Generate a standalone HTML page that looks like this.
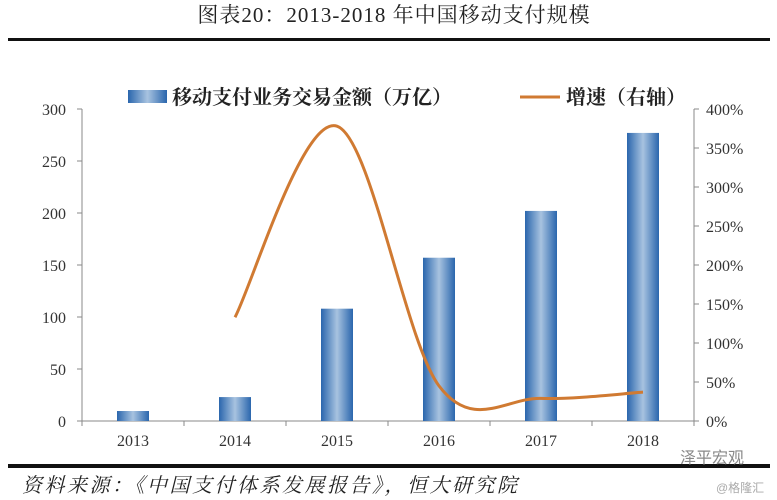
<!DOCTYPE html>
<html><head><meta charset="utf-8"><style>
body{margin:0;background:#fff;width:777px;height:500px;overflow:hidden}
svg{display:block}
</style></head><body>
<svg id="chart" width="777" height="500">
<defs>
<linearGradient id="bg" x1="0" x2="1" y1="0" y2="0">
<stop offset="0" stop-color="#2a66ad"/><stop offset="0.5" stop-color="#a8c3e0"/><stop offset="1" stop-color="#2a66ad"/>
</linearGradient>
</defs>
<text x="394" y="22" text-anchor="middle" font-family="Liberation Serif,'Noto Serif CJK SC',serif" font-size="21" letter-spacing="1" fill="#222">图表20：2013-2018 年中国移动支付规模</text>
<rect x="8" y="38" width="762" height="3" fill="#111"/>
<g>
<rect x="128" y="90" width="39" height="13" fill="url(#bg)"/>
<text x="172" y="104" font-family="Liberation Serif,'Noto Serif CJK SC',serif" font-size="20" font-weight="bold" fill="#222">移动支付业务交易金额（万亿）</text>
<line x1="520" y1="97" x2="560" y2="97" stroke="#d07a32" stroke-width="3"/>
<text x="566" y="104" font-family="Liberation Serif,'Noto Serif CJK SC',serif" font-size="20" font-weight="bold" fill="#222">增速（右轴）</text>
</g>
<g id="plot"></g>
<rect x="8" y="464" width="762" height="4" fill="#111"/>
<text x="22" y="492" font-family="Liberation Serif,'Noto Serif CJK SC',serif" font-size="20" font-style="italic" letter-spacing="2.5" fill="#222">资料来源：《中国支付体系发展报告》，恒大研究院</text>
<text x="680" y="463" font-family="Liberation Sans,'Noto Sans CJK SC',sans-serif" font-size="16" fill="#888">泽平宏观</text>
<text x="716" y="492" font-family="Liberation Sans,'Noto Sans CJK SC',sans-serif" font-size="12" fill="#aaa">@格隆汇</text>
</svg>
<script>
const categories=["2013","2014","2015","2016","2017","2018"];
const amounts=[9.6,23,108,157,202,277];
const growth=[null,133,378,45,29,37];
const leftTicks=[0,50,100,150,200,250,300];
const rightTicks=[0,50,100,150,200,250,300,350,400];
const X0=82,X1=694,Y0=421,Y1=109;
const NS="http://www.w3.org/2000/svg";
const g=document.getElementById('plot');
const bw=(X1-X0)/categories.length;
const xc=i=>X0+bw*(i+0.5);
const yl=v=>Y0-(v/300)*(Y0-Y1);
const yr=v=>Y0-(v/400)*(Y0-Y1);
function mk(t,a){const e=document.createElementNS(NS,t);for(const k in a)e.setAttribute(k,a[k]);g.appendChild(e);return e;}
const font="Liberation Serif,'Noto Serif CJK SC',serif";
let ax=mk('line',{x1:X0,y1:Y1,x2:X0,y2:Y0,stroke:'#888'});


ax=mk('line',{x1:X1,y1:Y1,x2:X1,y2:Y0,stroke:'#888'});


ax=mk('line',{x1:X0,y1:Y0,x2:X1,y2:Y0,stroke:'#888'});


leftTicks.forEach(v=>{
mk('line',{x1:X0-5,x2:X0,y1:yl(v),y2:yl(v),stroke:'#888'});
const t=mk('text',{x:X0-16,y:yl(v)+6,'text-anchor':'end','font-family':font,'font-size':16,fill:'#333'});
t.textContent=v;


});
rightTicks.forEach(v=>{
mk('line',{x1:X1,x2:X1+5,y1:yr(v),y2:yr(v),stroke:'#888'});
const t=mk('text',{x:X1+12,y:yr(v)+6,'font-family':font,'font-size':16,fill:'#333'});
t.textContent=v+'%';


});
for(let i=0;i<=categories.length;i++)mk('line',{x1:X0+bw*i,x2:X0+bw*i,y1:Y0,y2:Y0+5,stroke:'#888'});
categories.forEach((c,i)=>{
const r=mk('rect',{x:xc(i)-16,y:yl(amounts[i]),width:32,height:Y0-yl(amounts[i]),fill:'url(#bg)'});


const t=mk('text',{x:xc(i),y:446,'text-anchor':'middle','font-family':font,'font-size':16,fill:'#333'});
t.textContent=c;


});
const pts=[];growth.forEach((v,i)=>{if(v!==null)pts.push([xc(i),yr(v)]);});
let d='M'+pts[0][0]+','+pts[0][1];
for(let i=0;i<pts.length-1;i++){
const p0=pts[i-1]||pts[i],p1=pts[i],p2=pts[i+1],p3=pts[i+2]||p2;
const s=6;
d+=' C'+(p1[0]+(p2[0]-p0[0])/s)+','+(p1[1]+(p2[1]-p0[1])/s)+' '+(p2[0]-(p3[0]-p1[0])/s)+','+(p2[1]-(p3[1]-p1[1])/s)+' '+p2[0]+','+p2[1];
}
const ln=mk('path',{d:d,fill:'none',stroke:'#d07a32','stroke-width':3});


</script>
</body></html>
